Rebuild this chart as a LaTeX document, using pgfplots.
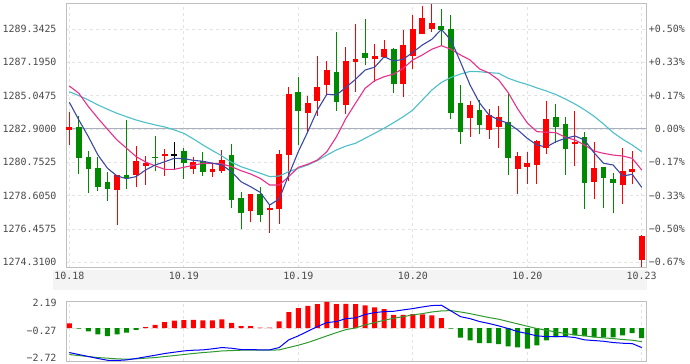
\documentclass[border=0pt]{standalone}
\usepackage{fontspec}
\setmainfont{DejaVu Sans Mono}
\usepackage{pgfplots}
\usepackage{pgfplotstable}
\pgfplotsset{compat=1.18}
\definecolor{cred}{HTML}{FF0000}
\definecolor{cgreen}{HTML}{008A00}
\definecolor{ma5}{HTML}{3A48A6}
\definecolor{ma10}{HTML}{E8308A}
\definecolor{ma20}{HTML}{4CBFC8}
\definecolor{gridc}{HTML}{E3E3E3}
\definecolor{framec}{HTML}{BFBFBF}
\definecolor{zeroc}{HTML}{A9B0BE}
\definecolor{labc}{HTML}{4A4A4A}
\definecolor{bandc}{HTML}{F4F4F4}
\definecolor{difc}{HTML}{0000FF}
\definecolor{deac}{HTML}{2E9A2E}

\pgfplotstableread{
i o h l c
0 1282.88 1283.98 1281.87 1283.05
5 1278.99 1279.94 1276.73 1279.94
7 1280.00 1281.82 1279.18 1280.84
8 1280.55 1281.16 1279.29 1280.71
10 1281.22 1281.64 1279.89 1281.26
13 1280.36 1281.10 1280.00 1280.77
15 1280.16 1280.65 1279.81 1280.32
16 1280.26 1281.55 1280.07 1280.90
19 1277.64 1278.71 1276.89 1278.71
21 1277.71 1278.00 1276.22 1277.81
22 1277.77 1281.55 1276.80 1281.29
23 1281.29 1285.59 1279.55 1285.16
25 1283.95 1285.03 1282.64 1284.58
26 1284.72 1287.58 1283.74 1285.59
27 1285.75 1287.30 1285.09 1286.70
29 1284.49 1288.20 1283.87 1287.28
30 1287.24 1289.65 1285.30 1287.41
32 1287.48 1288.40 1285.95 1287.60
33 1287.60 1288.63 1287.48 1288.05
35 1285.82 1289.28 1284.94 1288.31
36 1287.62 1290.25 1286.79 1289.34
37 1289.09 1290.84 1289.02 1290.05
38 1289.41 1290.95 1289.15 1289.73
42 1283.63 1284.70 1282.40 1284.43
44 1282.88 1284.17 1282.26 1283.80
45 1283.09 1284.40 1281.70 1283.67
47 1280.34 1281.42 1278.71 1281.16
48 1280.48 1281.39 1279.34 1280.69
49 1280.60 1282.19 1279.34 1282.13
50 1281.74 1284.72 1281.31 1283.56
53 1281.98 1284.08 1280.52 1282.03
55 1279.50 1282.06 1278.39 1280.37
58 1279.34 1281.70 1278.07 1280.19
59 1280.17 1281.48 1279.36 1280.30
60 1274.50 1276.07 1274.03 1276.03
}\redtab

\pgfplotstableread{
i o h l c
1 1283.03 1283.74 1280.00 1281.06
2 1281.08 1281.48 1278.80 1280.34
3 1280.39 1281.10 1278.92 1279.20
4 1279.47 1280.13 1278.28 1279.05
6 1279.94 1283.48 1279.03 1279.76
9 1281.10 1282.47 1280.19 1281.05
12 1281.48 1281.68 1279.68 1280.73
14 1280.84 1281.42 1279.87 1280.15
17 1281.22 1281.93 1277.79 1278.39
18 1278.44 1278.82 1276.44 1277.51
20 1278.71 1279.16 1276.93 1277.38
24 1285.28 1286.25 1281.85 1284.08
28 1286.57 1289.15 1284.08 1284.66
31 1287.80 1289.99 1287.00 1287.49
34 1288.05 1288.10 1285.24 1285.82
39 1289.56 1290.63 1288.31 1289.32
40 1289.34 1290.25 1283.52 1283.95
41 1284.58 1285.74 1281.93 1282.73
43 1284.12 1284.77 1282.56 1283.22
46 1283.35 1285.16 1279.94 1281.05
51 1283.67 1284.49 1281.98 1283.05
52 1283.20 1283.69 1279.96 1281.63
54 1282.37 1282.69 1277.75 1279.44
56 1280.43 1280.45 1277.79 1279.76
57 1279.68 1280.05 1277.51 1279.45
}\greentab

\pgfplotstableread{
i o h l c
11 1281.22 1282.08 1280.30 1281.22
}\blacktab

\pgfplotstableread{
i ma5 ma10 ma20
0 1284.62 1285.67 1285.30
1 1283.48 1285.20 1285.05
2 1282.40 1284.34 1284.77
3 1281.22 1283.59 1284.45
4 1280.37 1282.88 1284.17
5 1279.87 1282.19 1283.91
6 1279.70 1281.66 1283.69
7 1279.83 1281.12 1283.48
8 1280.26 1280.77 1283.31
9 1280.58 1280.52 1283.16
10 1280.79 1280.30 1283.03
11 1281.01 1280.30 1282.84
12 1280.99 1280.43 1282.62
13 1280.88 1280.56 1282.26
14 1280.82 1280.69 1281.87
15 1280.69 1280.69 1281.51
16 1280.58 1280.65 1281.16
17 1280.15 1280.47 1280.75
18 1279.50 1280.21 1280.47
19 1279.18 1280.00 1280.26
20 1278.82 1279.72 1280.05
21 1278.00 1279.29 1279.83
22 1278.39 1279.29 1279.87
23 1279.94 1279.83 1280.15
24 1281.44 1280.43 1280.37
25 1282.73 1280.63 1280.58
26 1284.12 1280.90 1280.86
27 1285.14 1281.44 1281.22
28 1285.09 1282.40 1281.55
29 1285.59 1283.59 1281.80
30 1286.10 1284.56 1281.98
31 1286.70 1285.52 1282.30
32 1286.88 1286.01 1282.62
33 1287.56 1286.27 1282.95
34 1287.28 1286.44 1283.31
35 1287.39 1286.81 1283.69
36 1287.84 1287.35 1284.12
37 1288.31 1287.67 1284.77
38 1288.68 1288.04 1285.41
39 1289.32 1288.27 1285.90
40 1288.63 1288.04 1286.22
41 1287.22 1287.67 1286.44
42 1285.74 1287.35 1286.61
43 1284.58 1286.77 1286.59
44 1283.80 1286.51 1286.53
45 1283.48 1286.06 1286.49
46 1283.27 1285.25 1286.17
47 1282.84 1284.19 1285.95
48 1282.30 1283.29 1285.77
49 1281.87 1282.73 1285.55
50 1281.74 1282.69 1285.35
51 1282.08 1282.66 1285.12
52 1282.30 1282.37 1284.83
53 1282.45 1282.19 1284.51
54 1282.19 1281.87 1284.14
55 1281.37 1281.48 1283.72
56 1280.69 1281.33 1283.22
57 1280.58 1281.22 1282.67
58 1279.87 1281.16 1282.24
59 1279.98 1281.01 1281.87
60 1279.14 1280.26 1281.44
}\matab

\pgfplotstableread{
i hist dif dea
0 0.40 -2.10 -2.27
1 -0.05 -2.27 -2.36
2 -0.28 -2.44 -2.44
3 -0.54 -2.61 -2.53
4 -0.69 -2.76 -2.58
5 -0.54 -2.78 -2.64
6 -0.40 -2.73 -2.67
7 -0.15 -2.61 -2.64
8 0.09 -2.47 -2.58
9 0.28 -2.33 -2.53
10 0.51 -2.18 -2.44
11 0.63 -2.07 -2.36
12 0.69 -1.96 -2.27
13 0.71 -1.90 -2.18
14 0.66 -1.87 -2.10
15 0.66 -1.78 -2.04
16 0.75 -1.67 -1.96
17 0.45 -1.73 -1.93
18 0.17 -1.84 -1.90
19 0.17 -1.84 -1.90
20 0.03 -1.87 -1.90
21 0.03 -1.87 -1.90
22 0.57 -1.67 -1.87
23 1.37 -1.01 -1.67
24 1.71 -0.67 -1.47
25 1.91 -0.27 -1.24
26 2.06 0.13 -0.96
27 2.25 0.47 -0.67
28 2.06 0.56 -0.39
29 2.08 0.81 -0.13
30 2.06 0.87 0.01
31 1.95 1.16 0.27
32 1.77 1.33 0.47
33 1.63 1.41 0.67
34 1.14 1.44 0.84
35 1.14 1.56 0.98
36 1.20 1.67 1.13
37 1.17 1.81 1.24
38 1.09 1.93 1.38
39 0.86 1.96 1.47
40 -0.05 1.47 1.50
41 -0.83 0.98 1.38
42 -1.05 0.81 1.24
43 -1.29 0.56 1.07
44 -1.29 0.39 0.90
45 -1.37 0.19 0.76
46 -1.57 -0.04 0.56
47 -1.65 -0.30 0.36
48 -1.77 -0.47 0.16
49 -1.48 -0.67 -0.04
50 -1.05 -0.73 -0.19
51 -0.77 -0.73 -0.33
52 -0.69 -0.73 -0.47
53 -0.63 -0.81 -0.59
54 -0.69 -1.01 -0.67
55 -0.80 -1.07 -0.76
56 -0.80 -1.13 -0.84
57 -0.80 -1.24 -0.90
58 -0.63 -1.30 -0.98
59 -0.43 -1.33 -1.04
60 -0.86 -1.67 -1.16
}\macdtab

\pgfplotsset{
  every axis/.append style={
    scale only axis,
    xmin=-0.35, xmax=60.5,
    major tick length=0pt,
    tick label style={font=\fontsize{10}{12}\selectfont, text=labc, inner sep=0pt},
    grid style={gridc, line width=0.8bp, dash pattern=on 3bp off 3bp},
  },
  wick/.style={only marks, mark size=0pt, mark options={draw=none, fill=none},
    error bars/.cd, y dir=plus, y explicit, error mark=none,
    error bar style={draw=#1, line width=1bp}},
}

\begin{document}
\begin{tikzpicture}
\fill[bandc] (53bp,-269.5bp) rectangle (646.5bp,-290bp);

% main price panel
\begin{axis}[
  at={(66bp,-3.3bp)}, anchor=north west,
  width=580.5bp, height=264.4bp,
  ymin=1273.96, ymax=1291.0,
  axis line style={framec, line width=1bp},
  xtick={0,12,24,36,48,60},
  xticklabels={10.18,10.19,10.19,10.20,10.20,10.23},
  xticklabel style={anchor=north, yshift=-4.5bp},
  ytick={1274.31,1276.4575,1278.605,1280.7525,1282.9,1285.0475,1287.195,1289.3425},
  yticklabels={1274.3100,1276.4575,1278.6050,1280.7525,1282.9000,1285.0475,1287.1950,1289.3425},
  yticklabel style={anchor=east, xshift=-9.3bp},
  xmajorgrids, ymajorgrids,
]
\addplot[zeroc, line width=1bp] coordinates {(-0.35,1282.9) (60.5,1282.9)};
% wicks
\addplot[wick=cred] table[x=i, y=l, y error plus expr=\thisrow{h}-\thisrow{l}] \redtab;
\addplot[wick=cgreen] table[x=i, y=l, y error plus expr=\thisrow{h}-\thisrow{l}] \greentab;
\addplot[wick=black] table[x=i, y=l, y error plus expr=\thisrow{h}-\thisrow{l}] \blacktab;
% bodies
\addplot[only marks, mark=-, mark size=2.9bp, mark options={draw=cred, line width=1.2bp},
  error bars/.cd, y dir=plus, y explicit, error mark=none,
  error bar style={draw=cred, line width=5.8bp}]
  table[x=i, y=o, y error plus expr=\thisrow{c}-\thisrow{o}] \redtab;
\addplot[only marks, mark=-, mark size=2.9bp, mark options={draw=cgreen, line width=1.2bp},
  error bars/.cd, y dir=plus, y explicit, error mark=none,
  error bar style={draw=cgreen, line width=5.8bp}]
  table[x=i, y=c, y error plus expr=\thisrow{o}-\thisrow{c}] \greentab;
\addplot[only marks, mark=-, mark size=2.9bp, mark options={draw=black, line width=1.2bp}]
  table[x=i, y=o] \blacktab;
% moving averages
\addplot[ma20, line width=1.1bp] table[x=i, y=ma20] \matab;
\addplot[ma10, line width=1.1bp] table[x=i, y=ma10] \matab;
\addplot[ma5, line width=1.1bp] table[x=i, y=ma5] \matab;
\end{axis}

% right percentage labels
\begin{axis}[
  at={(66bp,-3.3bp)}, anchor=north west,
  width=580.5bp, height=264.4bp,
  ymin=1273.96, ymax=1291.0,
  axis x line=none, axis y line*=right,
  y axis line style={draw=none},
  ytick={1274.31,1276.4575,1278.605,1280.7525,1282.9,1285.0475,1287.195,1289.3425},
  yticklabels={−0.67\%,−0.50\%,−0.33\%,−0.17\%,0.00\%,+0.17\%,+0.33\%,+0.50\%},
  yticklabel style={anchor=east, xshift=38.5bp},
]
\end{axis}

% MACD panel
\begin{axis}[
  at={(66bp,-301.6bp)}, anchor=north west,
  width=580.5bp, height=59.7bp,
  ymin=-2.85, ymax=2.27,
  axis line style={framec, line width=1bp},
  xtick={0,12,24,36,48,60}, xticklabels={},
  ytick={-0.27,2.19},
  yticklabels={−0.27,2.19},
  extra y ticks={-2.72},
  extra y tick labels={−2.72},
  extra y tick style={yticklabel style={yshift=1.6bp}},
  yticklabel style={anchor=east, xshift=-9.3bp},
  xmajorgrids,
]
\addplot[gridc, line width=0.8bp, dash pattern=on 3bp off 3bp] coordinates {(-0.35,0) (60.5,0)};
\addplot[ybar, bar width=5bp, bar shift=0pt, fill=cred, draw=none,
  y filter/.expression={y>0 ? y : nan}] table[x=i, y=hist] \macdtab;
\addplot[ybar, bar width=5bp, bar shift=0pt, fill=cgreen, draw=none,
  y filter/.expression={y<0 ? y : nan}] table[x=i, y=hist] \macdtab;
\addplot[deac, line width=1bp] table[x=i, y=dea] \macdtab;
\addplot[difc, line width=1bp] table[x=i, y=dif] \macdtab;
\end{axis}

\pgfresetboundingbox
\path[use as bounding box] (0bp,0bp) rectangle (690bp,-364bp);
\end{tikzpicture}
\end{document}
